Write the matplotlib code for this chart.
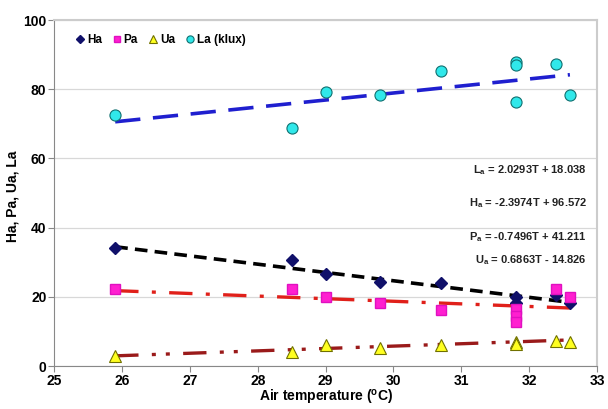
import numpy as np
import matplotlib
matplotlib.use('Agg')
import matplotlib.pyplot as plt

plt.rcParams['font.family'] = ['Liberation Sans', 'DejaVu Sans']
plt.rcParams['font.weight'] = 'bold'
plt.rcParams['mathtext.fontset'] = 'custom'
plt.rcParams['mathtext.rm'] = 'Liberation Sans:bold'
plt.rcParams['mathtext.bf'] = 'Liberation Sans:bold'
plt.rcParams['mathtext.it'] = 'Liberation Sans:bold'

# data
temp_ha = [25.9, 28.5, 29.0, 29.8, 30.7, 31.8, 31.8, 32.4, 32.6]
ha = [34.0, 30.6, 26.6, 24.3, 24.1, 20.0, 18.3, 20.6, 18.1]

temp_pa = [25.9, 28.5, 29.0, 29.8, 30.7, 31.8, 31.8, 31.8, 32.4, 32.6]
pa = [22.2, 22.2, 20.0, 18.2, 16.2, 16.5, 14.5, 12.8, 22.2, 20.0]

temp_ua = [25.9, 28.5, 29.0, 29.8, 30.7, 31.8, 31.8, 32.4, 32.6]
ua = [2.8, 4.0, 6.1, 5.3, 6.2, 7.0, 6.3, 7.2, 6.9]

temp_la = [25.9, 28.5, 29.0, 29.8, 30.7, 31.8, 31.8, 31.8, 32.4, 32.6]
la = [72.5, 68.8, 79.3, 78.2, 85.2, 88.0, 86.9, 76.3, 87.3, 78.4]

# trend line coefficients (slope, intercept) as printed on the chart
fit_la = [2.0293, 18.038]
fit_ha = [-2.3974, 96.572]
fit_pa = [-0.7496, 41.211]
fit_ua = [0.6863, -14.826]
fit_range = [25.9, 32.6]

eq_labels = [r'L$_{a}$ = 2.0293T + 18.038',
             r'H$_{a}$ = -2.3974T + 96.572',
             r'P$_{a}$ = -0.7496T + 41.211',
             r'U$_{a}$ = 0.6863T - 14.826']
eq_y = [56.5, 47.0, 37.3, 30.5]

fig = plt.figure(figsize=(6.08, 4.09), dpi=100)
ax = fig.add_axes([0.089, 0.105, 0.893, 0.846])

xs = np.array(fit_range)
ax.plot(xs, np.polyval(fit_la, xs), color='#1f1fcf', lw=2.6, dashes=(7, 3.5), zorder=3)
ax.plot(xs, np.polyval(fit_ha, xs), color='black', lw=2.6, dashes=(3.5, 2), zorder=3)
ax.plot(xs, np.polyval(fit_pa, xs), color='#e0201a', lw=2.4, dashes=(7, 4, 1.2, 4), zorder=3)
ax.plot(xs, np.polyval(fit_ua, xs), color='#9a1a1a', lw=2.4, dashes=(7, 4, 1.2, 3, 1.2, 4), zorder=3)

ax.plot(temp_ha, ha, 'D', ms=6, color='#10106a', mec='#10106a', label='Ha', zorder=4)
ax.plot(temp_pa, pa, 's', ms=7.5, color='#ff1fd0', mec='#e010c0', label='Pa', zorder=4)
ax.plot(temp_ua, ua, '^', ms=8.5, color='#ffff20', mec='#707000', mew=0.8, label='Ua', zorder=4)
ax.plot(temp_la, la, 'o', ms=8, color='#30e8ea', mec='#107070', mew=0.8, label='La (klux)', zorder=4)

for lab, y in zip(eq_labels, eq_y):
    ax.text(32.85, y, lab, ha='right', va='center', fontsize=8, fontweight='bold', color='#222222')

ax.set_xlim(25, 33)
ax.set_ylim(0, 100)
ax.set_xticks(range(25, 34))
ax.set_yticks(range(0, 101, 20))
ax.tick_params(labelsize=10, direction='out', length=4, pad=1.5, color='#888888')
for lab in ax.get_xticklabels() + ax.get_yticklabels():
    lab.set_fontweight('bold')
ax.yaxis.grid(True, color='#d8d8d8', lw=0.9)
ax.set_axisbelow(True)
for s in ['left', 'bottom']:
    ax.spines[s].set_color('#888888')
for s in ['top', 'right']:
    ax.spines[s].set_color('#cccccc')
    ax.spines[s].set_linewidth(1.5)

ax.set_xlabel(r'Air temperature ($^{o}$C)', fontsize=10, fontweight='bold')
ax.xaxis.set_label_coords(0.5, -0.062)
ax.set_ylabel('Ha, Pa, Ua, La', fontsize=10, fontweight='bold')
ax.yaxis.set_label_coords(-0.063, 0.49)

leg = ax.legend(loc='upper left', bbox_to_anchor=(0.02, 0.99), ncol=4, frameon=False,
                fontsize=8.5, markerscale=0.65, handlelength=0.7, handletextpad=0.25,
                columnspacing=0.9)
for t in leg.get_texts():
    t.set_fontweight('bold')

fig.savefig('out.png', dpi=100)
